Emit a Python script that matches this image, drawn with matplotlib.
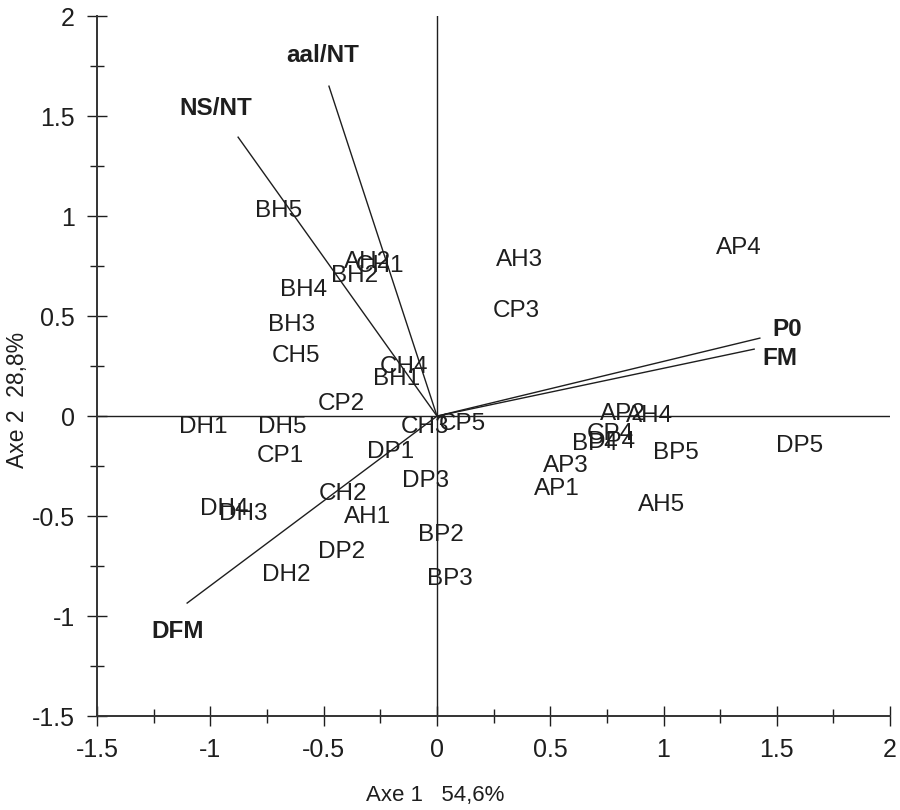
import matplotlib
matplotlib.use("Agg")
import matplotlib.pyplot as plt
from matplotlib.ticker import MultipleLocator

plt.rcParams['font.family'] = ['Liberation Sans', 'DejaVu Sans']

# Individuals (label, axe1, axe2)
point_labels = ["BH5", "AH2", "CH1", "BH2", "BH4", "BH3", "CH5", "CH4", "BH1", "CP2",
                "DH1", "DH5", "CP1", "CH3", "CP5", "DP1", "DP3", "CH2", "AH1", "DH4",
                "DH3", "BP2", "DP2", "DH2", "BP3", "AH3", "CP3", "AP4", "AP2", "AH4",
                "CP4", "BP4", "DP4", "BP5", "AP3", "AP1", "AH5", "DP5"]
point_x = [-0.70, -0.305, -0.25, -0.366, -0.587, -0.64, -0.622, -0.146, -0.177, -0.424,
           -1.03, -0.684, -0.693, -0.053, 0.11, -0.207, -0.049, -0.415, -0.305, -0.94,
           -0.856, 0.018, -0.42, -0.666, 0.057, 0.366, 0.349, 1.333, 0.82, 0.94,
           0.763, 0.697, 0.772, 1.055, 0.57, 0.53, 0.99, 1.60]
point_y = [1.025, 0.77, 0.75, 0.70, 0.63, 0.455, 0.30, 0.245, 0.185, 0.06,
           -0.055, -0.055, -0.20, -0.055, -0.04, -0.18, -0.325, -0.39, -0.505, -0.465,
           -0.49, -0.595, -0.68, -0.795, -0.815, 0.78, 0.525, 0.84, 0.01, 0.0,
           -0.09, -0.14, -0.13, -0.185, -0.25, -0.365, -0.445, -0.15]

# Variables (vectors)
var_labels = ["aal/NT", "NS/NT", "P0", "FM", "DFM"]
var_x = [-0.477, -0.878, 1.425, 1.40, -1.103]
var_y = [1.65, 1.395, 0.39, 0.335, -0.935]
var_label_x = [-0.503, -0.975, 1.545, 1.515, -1.147]
var_label_y = [1.805, 1.54, 0.435, 0.29, -1.075]

ticks = [-1.5, -1, -0.5, 0, 0.5, 1, 1.5, 2]
tick_labels = ["-1.5", "-1", "-0.5", "0", "0.5", "1", "1.5", "2"]

fig = plt.figure(figsize=(9, 8.1), dpi=100)
ax = fig.add_axes([0.108, 0.116, 0.881, 0.864])
ax.set_xlim(-1.5, 2)
ax.set_ylim(-1.5, 2)

ink = '#1e1e1e'

# reference lines
ax.plot([0, 0], [-1.5, 2], color=ink, lw=1.0, zorder=1)
ax.plot([-1.5, 2], [0, 0], color=ink, lw=1.0, zorder=1)

# vectors
for lab, vx, vy, tx, ty in zip(var_labels, var_x, var_y, var_label_x, var_label_y):
    ax.plot([0, vx], [0, vy], color=ink, lw=1.0, zorder=2)
    ax.text(tx, ty, lab, fontsize=17.5, fontweight='bold', ha='center', va='center', color=ink)

# point labels
for lab, x, y in zip(point_labels, point_x, point_y):
    ax.text(x, y, lab, fontsize=17.5, ha='center', va='center', color=ink)

for s in ['top', 'right']:
    ax.spines[s].set_visible(False)
for s in ['left', 'bottom']:
    ax.spines[s].set_linewidth(1.4)
    ax.spines[s].set_color('#333333')

ax.xaxis.set_minor_locator(MultipleLocator(0.25))
ax.yaxis.set_minor_locator(MultipleLocator(0.25))
ax.set_xticks(ticks)
ax.set_xticklabels(tick_labels)
ax.set_yticks(ticks)
ax.set_yticklabels(tick_labels)
ax.tick_params(which='major', direction='inout', length=14, width=1.0, labelsize=18,
               colors=ink, pad=9)
ax.tick_params(which='minor', direction='inout', length=10, width=1.0, colors=ink)

fig.text(435 / 900, 1 - 795 / 810, "Axe 1   54,6%", fontsize=16, color=ink,
         ha='center', va='center')
fig.text(18 / 900, 1 - 400 / 810, "Axe 2  28,8%", fontsize=16.5, color=ink,
         ha='center', va='center', rotation=90)

fig.savefig("out.png", dpi=100)
